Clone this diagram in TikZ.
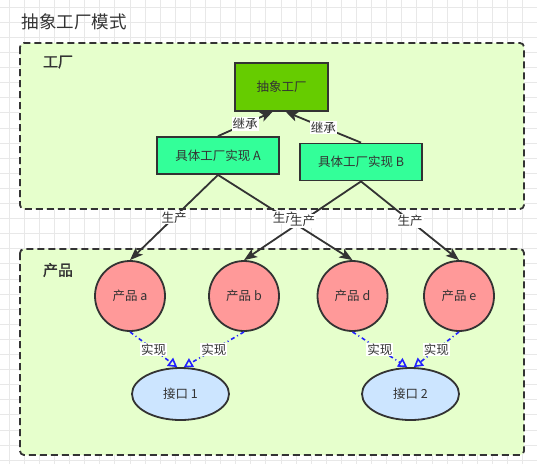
\documentclass[tikz,border=0pt]{standalone}
\usepackage{fontspec}
\setmainfont{Noto Sans CJK SC}
\newfontfamily\heavycjk[FakeBold=1.5]{Noto Sans CJK SC}
\usetikzlibrary{shapes.geometric,arrows.meta}
\definecolor{linegray}{HTML}{333333}
\definecolor{groupgreen}{HTML}{E6FFCC}
\definecolor{abstractgreen}{HTML}{66CC00}
\definecolor{concretegreen}{HTML}{33FF99}
\definecolor{productred}{HTML}{FF9999}
\definecolor{ifaceblue}{HTML}{CCE5FF}
\definecolor{implblue}{HTML}{2222FF}
\newcommand\lblsize{\fontsize{12.5}{14}\selectfont}
\begin{document}
\begin{tikzpicture}[x=1pt,y=-1pt,
    gridline/.style={draw=black!9,line width=0.5pt},
    groupbox/.style={draw=linegray,fill=groupgreen,line width=1.8pt,dash pattern=on 7pt off 4pt,rounded corners=4pt},
    grouplabel/.style={font=\heavycjk\fontsize{15}{17}\selectfont,text=linegray},
    abstractbox/.style={draw=linegray,fill=abstractgreen,line width=1.8pt,minimum width=93pt,minimum height=48pt,font=\lblsize,text=linegray},
    factorybox/.style={draw=linegray,fill=concretegreen,line width=1.8pt,minimum width=122pt,minimum height=37pt,font=\lblsize,text=linegray},
    productnode/.style={circle,draw=linegray,fill=productred,line width=1.8pt,minimum size=70pt,inner sep=0pt,font=\lblsize,text=linegray},
    ifacenode/.style={ellipse,draw=linegray,fill=ifaceblue,line width=1.8pt,minimum width=97pt,minimum height=52pt,inner sep=0pt,font=\lblsize,text=linegray},
    lbl/.style={fill=white,inner sep=1pt,font=\lblsize,text=linegray},
    inherit/.style={draw=linegray,line width=1.8pt,-{Stealth[length=12pt,width=10pt,inset=3pt]}},
    produce/.style={draw=linegray,line width=1.8pt,-{Stealth[length=13pt,width=10pt,inset=3pt]}},
    implement/.style={draw=implblue,line width=1.6pt,dash pattern=on 4pt off 3pt on 1pt off 3pt,-{Triangle[open,length=9pt,width=10pt,line width=1.6pt]}}]
    \useasboundingbox (0,0) rectangle (537,464);
    \foreach \i in {0,...,35} \draw[gridline] (9+15.1*\i,0) -- (9+15.1*\i,464);
    \foreach \j in {0,...,30} \draw[gridline] (0,7+15.1*\j) -- (537,7+15.1*\j);

    \node[font=\fontsize{17.5}{20}\selectfont,text=linegray] (title) at (74,22) {抽象工厂模式};

    \draw[groupbox] (20,43) rectangle (524,209);
    \draw[groupbox] (20,249) rectangle (524,455);
    \node[grouplabel] (factlbl) at (58,62) {工厂};
    \node[grouplabel] (prodlbl) at (58,270) {产品};

    \node[abstractbox] (af) at (281.5,87) {抽象工厂};
    \node[factorybox] (fa) at (218,155.5) {具体工厂实现 A};
    \node[factorybox] (fb) at (361,162) {具体工厂实现 B};

    \node[productnode] (pa) at (130,296) {产品 a};
    \node[productnode] (pb) at (244,296) {产品 b};
    \node[productnode] (pd) at (352.5,296) {产品 d};
    \node[productnode] (pe) at (459,296) {产品 e};

    \node[ifacenode] (i1) at (180.5,394) {接口 1};
    \node[ifacenode] (i2) at (410.5,394) {接口 2};

    \draw[inherit] (fa.north) -- node[lbl,pos=0.5] {继承} (af.-110);
    \draw[inherit] (fb.north) -- node[lbl,pos=0.5] {继承} (af.-80);

    \draw[produce] (fa.south) -- node[lbl,pos=0.5] {生产} (pa.north);
    \draw[produce] (fa.south) -- node[lbl,pos=0.5] {生产} (pd.north);
    \draw[produce] (fb.south) -- node[lbl,pos=0.5] {生产} (pb.north);
    \draw[produce] (fb.south) -- node[lbl,pos=0.5] {生产} (pe.north);

    \draw[implement] (pa.south) -- node[lbl,pos=0.5] {实现} (i1.97);
    \draw[implement] (pb.south) -- node[lbl,pos=0.5] {实现} (i1.83);
    \draw[implement] (pd.south) -- node[lbl,pos=0.5] {实现} (i2.97);
    \draw[implement] (pe.south) -- node[lbl,pos=0.5] {实现} (i2.83);
\end{tikzpicture}
\end{document}
